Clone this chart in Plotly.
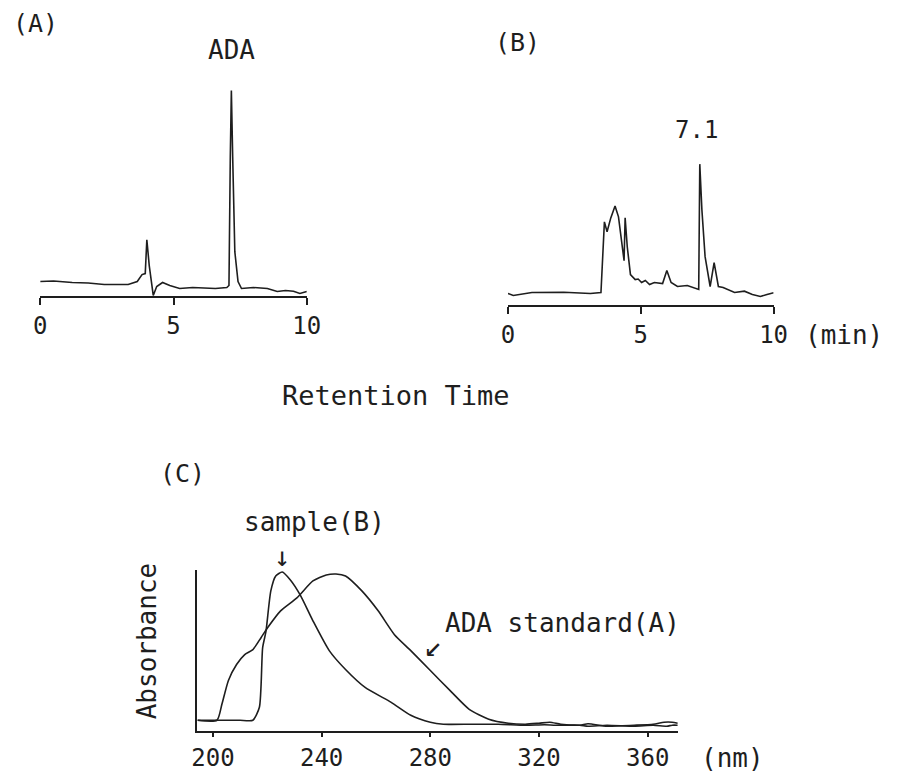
import plotly.graph_objects as go

# ---- data ----
# Panel A: ADA standard chromatogram
tA = [0, 0.5, 1.2, 1.8, 2.4, 3.0, 3.3, 3.64, 3.82, 3.94, 4.0, 4.09, 4.24, 4.37, 4.59, 4.86,
      5.23, 5.72, 6.1, 6.57, 7.0, 7.08, 7.13, 7.17, 7.22, 7.3, 7.42, 7.55, 8.0, 8.52, 8.89,
      9.2, 9.5, 9.74, 10]
yA = [15, 15.5, 14, 13.5, 12, 12.5, 12, 15, 22, 23, 57, 31, 1, 10, 14, 11,
      8, 9, 8.5, 8, 9, 11, 140, 207, 140, 45, 15, 8, 9, 8, 5,
      6, 5.3, 3, 5]

# Panel B: sample chromatogram
tB = [0, 0.2, 0.9, 2.1, 3.1, 3.5, 3.63, 3.73, 3.87, 4.03, 4.16, 4.3, 4.37, 4.41, 4.49, 4.61,
      4.79, 4.9, 5.03, 5.17, 5.33, 5.51, 5.82, 5.98, 6.14, 6.38, 6.75, 7.18, 7.22, 7.3, 7.42,
      7.61, 7.76, 7.92, 8.1, 8.53, 8.9, 9.2, 9.5, 9.75, 10]
yB = [12, 10, 13, 13.3, 12, 13, 84, 74, 88, 100, 89, 56, 45, 88, 59, 31,
      26, 26.5, 23, 25, 21, 23, 22, 35, 23, 19, 20, 16, 142, 96, 49,
      19, 43, 19, 18, 13, 14.3, 11, 9, 11, 12.7]

# Panel C: UV spectra
lamS = [194.3, 200, 205, 210, 214.7, 217.1, 218.3, 219.5, 221.3, 223.1, 225.5, 228.5, 232.1,
        236.8, 242.8, 248.8, 256, 265.6, 272.8, 280, 284.8, 295, 305, 315, 322, 326, 335,
        338, 345, 355, 362, 367, 369, 371]
valS = [11, 11, 11, 11, 11, 24, 84, 100, 141, 156, 160, 152, 137,
        111, 81, 62, 44, 29, 16, 9, 7, 7, 7, 6, 6.5, 6, 6,
        5, 6, 5, 6, 5, 6, 6]
lamA = [194.3, 201.5, 203.3, 205.7, 208.7, 211.7, 214.7, 217.7, 220.1, 224.9, 230.9, 236.8,
        241.7, 245.3, 248.8, 254.8, 260.8, 266.8, 272.8, 280, 287.2, 294.3, 301.5, 308.7,
        315, 320, 324, 328, 335, 338, 345, 355, 362, 366, 369, 371]
valA = [11, 11, 27, 51, 67, 77, 82, 94, 104, 121, 134, 151,
        157, 158, 156, 141, 121, 97, 81, 61, 41, 22, 12, 8,
        7, 8, 9, 7, 6, 7.5, 5, 6, 7, 9, 9, 8]

ticksAB = [0, 5, 10]
ticksC = [200, 240, 280, 320, 360]

# ---- layout helpers (pixel positions -> paper fractions) ----
W, H = 897, 772
def fx(x):
    return x / W
def fy(y):
    return 1 - y / H

INK = "#1e1e1e"
FONT = "DejaVu Sans Mono"
line = dict(color=INK, width=1.6)
sline = dict(color=INK, width=1.6, shape="spline", smoothing=0.6)

fig = go.Figure()
fig.add_trace(go.Scatter(x=tA, y=yA, mode="lines", line=line, xaxis="x", yaxis="y", showlegend=False))
fig.add_trace(go.Scatter(x=tB, y=yB, mode="lines", line=line, xaxis="x2", yaxis="y2", showlegend=False))
fig.add_trace(go.Scatter(x=lamS, y=valS, mode="lines", line=sline, xaxis="x3", yaxis="y3", showlegend=False))
fig.add_trace(go.Scatter(x=lamA, y=valA, mode="lines", line=sline, xaxis="x3", yaxis="y3", showlegend=False))

xcommon = dict(showline=True, linecolor=INK, linewidth=1.6, showgrid=False, zeroline=False,
               ticks="outside", tickcolor=INK, tickwidth=1.6, fixedrange=True,
               tickfont=dict(family=FONT, size=24, color=INK))
ycommon = dict(visible=False, showgrid=False, zeroline=False, fixedrange=True)

fig.update_layout(
    width=W, height=H, autosize=False,
    margin=dict(l=0, r=0, t=0, b=0),
    paper_bgcolor="white", plot_bgcolor="white",
    xaxis=dict(**xcommon, domain=[fx(34), fx(307)], range=[0, 10], anchor="y",
               tickvals=ticksAB, ticktext=[str(v) for v in ticksAB], ticklen=7),
    yaxis=dict(**ycommon, domain=[fy(298), fy(78)], range=[0, 220], anchor="x"),
    xaxis2=dict(**xcommon, domain=[fx(513), fx(785)], range=[0, 10], anchor="y2",
                tickvals=ticksAB, ticktext=[str(v) for v in ticksAB], ticklen=7),
    yaxis2=dict(**ycommon, domain=[fy(307), fy(147)], range=[0, 160], anchor="x2"),
    xaxis3=dict(**xcommon, domain=[fx(195), fx(687)], range=[194.3, 371.1], anchor="y3",
                tickvals=ticksC, ticktext=[str(v) for v in ticksC], ticklen=4),
    yaxis3=dict(domain=[fy(735), fy(573)], range=[0, 162], anchor="x3",
                showline=True, linecolor=INK, linewidth=1.6, showgrid=False, zeroline=False,
                showticklabels=False, ticks="", fixedrange=True),
)

def label(text, x, y, size=26, angle=0):
    fig.add_annotation(text=text, x=fx(x), y=fy(y), xref="paper", yref="paper",
                       showarrow=False, xanchor="center", yanchor="middle", textangle=angle,
                       font=dict(family=FONT, size=size, color=INK))

label("(A)", 29, 24, 25)
label("ADA", 230, 50, 26)
label("(B)", 523, 43, 25)
label("7.1", 706, 131, 24)
label("(min)", 857, 337, 26)
label("Retention Time", 398, 398, 27)
label("(C)", 180, 476, 25)
label("sample(B)", 315, 525, 26)
label("↓", 282, 559, 27)
label("ADA standard(A)", 569, 626, 26)
label("↙", 436, 649, 30)
label("Absorbance", 143, 644, 26, angle=-90)
label("(nm)", 743, 762, 26)

fig.write_html("out.html", config={"displayModeBar": False},
               post_script="document.body.style.margin='0';document.body.style.overflow='hidden';")
